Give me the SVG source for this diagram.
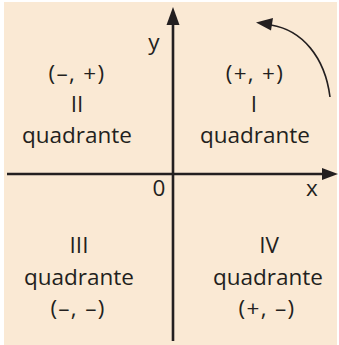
<svg xmlns="http://www.w3.org/2000/svg" width="339" height="345" viewBox="0 0 339 345">
<style>
.t{font-family:"Open Sans","Liberation Sans",sans-serif;font-size:22.5px;fill:#231F20;text-anchor:middle}
.s{letter-spacing:1.3px}
.ax{stroke:#231F20;stroke-width:2.6;fill:none}
.head{fill:#231F20}
</style>
<rect x="4" y="2" width="333" height="343" fill="#FAE9D4"/>
<g id="connectors">
<line class="ax" x1="173" y1="22" x2="173" y2="341"/>
<polygon class="head" points="173,7 166.5,25 179.5,25"/>
<line class="ax" x1="7" y1="174" x2="324" y2="174"/>
<polygon class="head" points="338,174 322,168 322,180"/>
<path d="M330,97 C325,57 302,30 271,25" stroke="#231F20" stroke-width="1.6" fill="none"/>
<polygon class="head" points="256,22.5 273,18 271,30.5"/>
</g>
<g id="axis-labels">
<text class="t" x="154" y="50">y</text>
<text class="t" x="312" y="196">x</text>
<text class="t" x="159" y="196">0</text>
</g>
<g id="q2">
<text class="t s" x="77" y="81">(–, +)</text>
<text class="t" x="77" y="112">II</text>
<text class="t" x="77" y="143">quadrante</text>
</g>
<g id="q1">
<text class="t s" x="255" y="81">(+, +)</text>
<text class="t" x="254" y="112">I</text>
<text class="t" x="255" y="143">quadrante</text>
</g>
<g id="q3">
<text class="t" x="79" y="253">III</text>
<text class="t" x="79" y="285">quadrante</text>
<text class="t s" x="78" y="316">(–, –)</text>
</g>
<g id="q4">
<text class="t" x="269" y="253">IV</text>
<text class="t" x="268" y="285">quadrante</text>
<text class="t s" x="267" y="316">(+, –)</text>
</g>
</svg>
